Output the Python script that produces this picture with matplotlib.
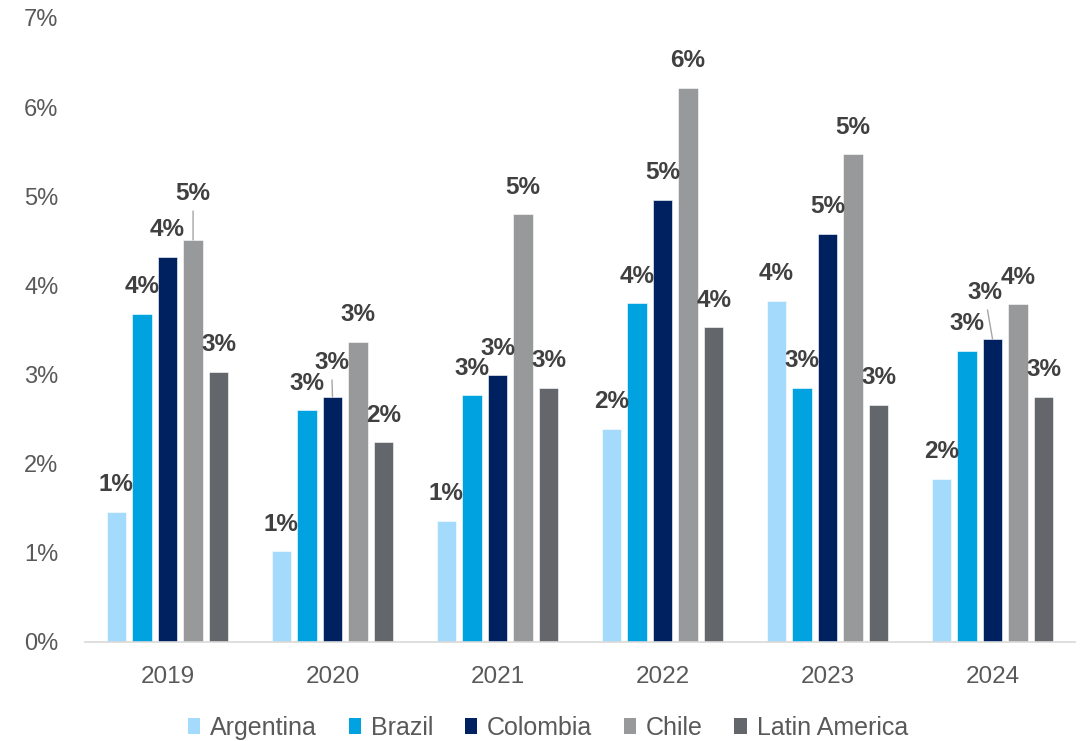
import matplotlib
matplotlib.use("Agg")
import matplotlib.pyplot as plt
from matplotlib.patches import Patch
from matplotlib import font_manager
import numpy as np

years = ["2019", "2020", "2021", "2022", "2023", "2024"]
series_names = ["Argentina", "Brazil", "Colombia", "Chile", "Latin America"]
argentina = [1.46, 1.02, 1.36, 2.39, 3.83, 1.83]
brazil = [3.68, 2.60, 2.77, 3.80, 2.85, 3.27]
colombia = [4.32, 2.75, 2.99, 4.96, 4.58, 3.40]
chile = [4.51, 3.37, 4.80, 6.22, 5.47, 3.79]
latam = [3.03, 2.24, 2.85, 3.53, 2.66, 2.75]
yticks = [0, 1, 2, 3, 4, 5, 6, 7]

colors = ["#A4DBFC", "#00A3E0", "#00215F", "#98999B", "#63666A"]
data = [argentina, brazil, colombia, chile, latam]

# label offsets in pixels (special ones with leader lines): (series, year) -> (dx, dy)
special = {(3, 0): (0, 46), (2, 1): (-1, 34), (2, 5): (-8, 46)}

names = {f.name for f in font_manager.fontManager.ttflist}
narrow = "Liberation Sans Narrow" in names

DPI = 100
fig = plt.figure(figsize=(10.84, 7.41), dpi=DPI)
ax = fig.add_axes([85 / 1084, 99 / 741, 990 / 1084, 624 / 741])

x = np.arange(len(years))
step = 0.155
width = 0.119
pt = 72 / DPI
for j, (vals, c) in enumerate(zip(data, colors)):
    pos = x + (j - 2) * step
    ax.bar(pos, vals, width=width, color=c, edgecolor="white", linewidth=0.4, zorder=2)
    for i, v in enumerate(vals):
        lbl = f"{int(round(v))}%"
        kw = dict(textcoords="offset points", ha="center", va="center",
                  fontsize=17.5, fontweight="bold", color="#404040",
                  family=["Liberation Sans", "DejaVu Sans"])
        if (j, i) in special:
            dx, dy = special[(j, i)]
            ax.annotate(lbl, xy=(pos[i], v), xytext=(dx * pt, dy * pt),
                        arrowprops=dict(arrowstyle="-", color="#A6A6A6", lw=1.0,
                                        shrinkA=2, shrinkB=0), **kw)
        else:
            ax.annotate(lbl, xy=(pos[i], v), xytext=(0, 27 * pt), **kw)

ax.set_xlim(-0.5, len(years) - 0.5)
ax.set_ylim(0, 7)
ax.set_yticks(yticks)
ax.set_yticklabels([f"{t}%" for t in yticks])
ax.set_xticks(x)
ax.set_xticklabels(years)
for s in ["top", "right", "left"]:
    ax.spines[s].set_visible(False)
ax.spines["bottom"].set_color("#D9D9D9")
ax.spines["bottom"].set_linewidth(1.2)
ax.tick_params(axis="y", length=0, pad=19, labelsize=17, labelcolor="#595959")
ax.tick_params(axis="x", length=0, pad=17, labelsize=17.5, labelcolor="#595959")
for t in ax.get_xticklabels() + ax.get_yticklabels():
    t.set_family(["Liberation Sans", "DejaVu Sans"])

handles = [Patch(facecolor=c, edgecolor="none") for c in colors]
if narrow:
    lprop = dict(family=["Liberation Sans Narrow", "Liberation Sans"], size=21)
    hl, hh, htp, cs = 0.45, 0.6, 0.45, 1.35
else:
    lprop = dict(family=["Liberation Sans", "DejaVu Sans"], size=18)
    hl, hh, htp, cs = 0.5, 0.6, 0.4, 1.25
fig.legend(handles, series_names, loc="center", bbox_to_anchor=(548 / 1084, 1 - 728 / 741),
           ncol=5, frameon=False, handlelength=hl, handleheight=hh, handletextpad=htp,
           columnspacing=cs, prop=lprop, labelcolor="#595959")

fig.savefig("out.png", dpi=DPI)
